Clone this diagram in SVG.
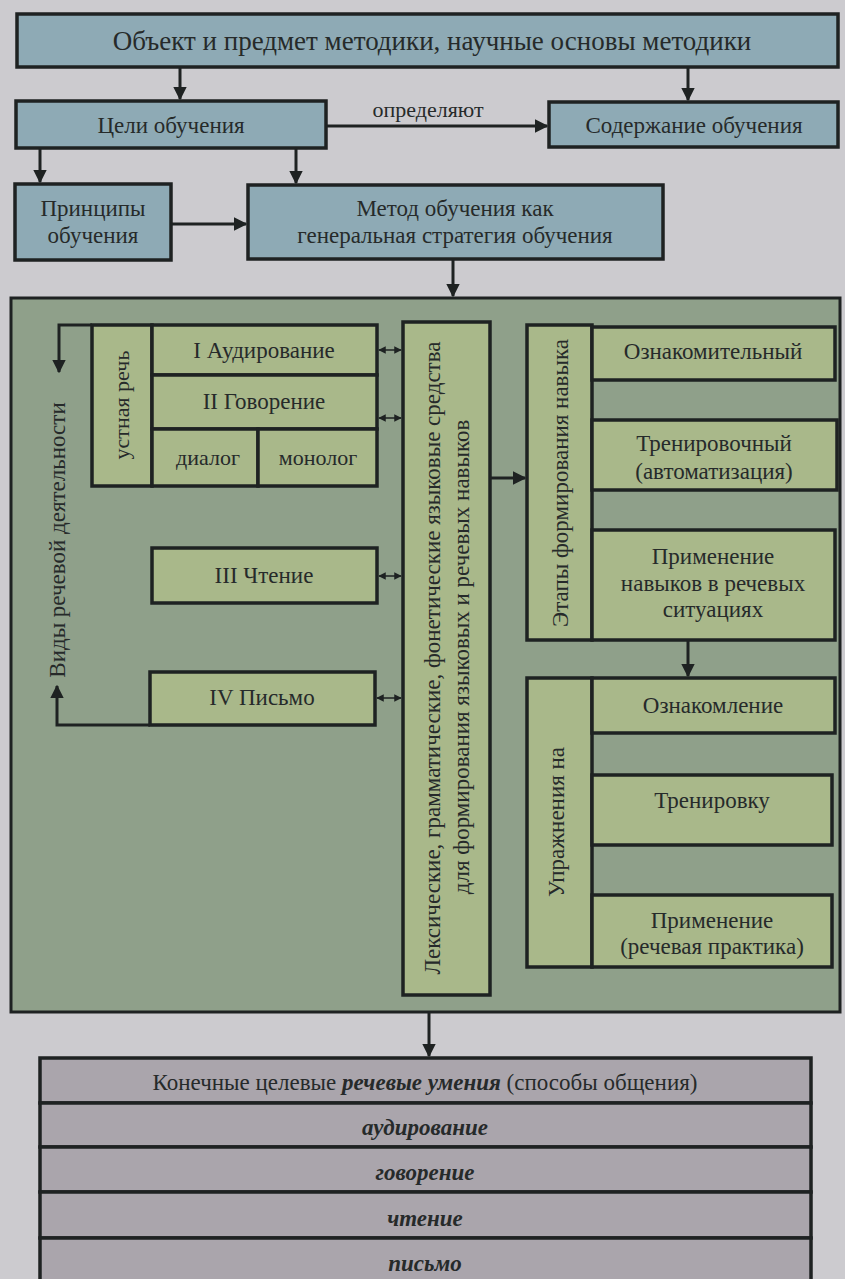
<svg xmlns="http://www.w3.org/2000/svg" width="845" height="1279" viewBox="0 0 845 1279">
<defs>
<style>
.bg{fill:#cccbcf}
.blue{fill:#8eaab5;stroke:#1e2222;stroke-width:3.5}
.big{fill:#8fa08a;stroke:#1e2222;stroke-width:3}
.ol{fill:#a9b88a;stroke:#1e2222;stroke-width:3.5}
.tb{fill:#aaa5ac;stroke:#1e2222;stroke-width:3.5}
text{font-family:"Liberation Serif","Times New Roman",serif;fill:#262a2a;text-anchor:middle;dominant-baseline:central}
.t1{font-size:27px}
.t{font-size:23px}
.s{font-size:22px}
.bi{font-size:23px;font-style:italic;font-weight:bold}
.ln{fill:none;stroke:#1e2222;stroke-width:3}
.ln2{fill:none;stroke:#1e2222;stroke-width:1.5}
</style>
<marker id="ah" viewBox="0 0 10 10" refX="9" refY="5" markerWidth="4.5" markerHeight="4.5" orient="auto-start-reverse" markerUnits="strokeWidth">
<path d="M0,0 L10,5 L0,10 z" fill="#1e2222"/>
</marker>
<marker id="sh" viewBox="0 0 10 10" refX="9" refY="5" markerWidth="5" markerHeight="5" orient="auto-start-reverse" markerUnits="strokeWidth">
<path d="M0,0 L10,5 L0,10 z" fill="#1e2222"/>
</marker>
</defs>
<rect class="bg" x="0" y="0" width="845" height="1279"/>

<g id="n-object"><rect class="blue" x="17" y="14" width="821" height="53"/><text class="t1" x="432" y="41">Объект и предмет методики, научные основы методики</text></g>
<g id="n-goals"><rect class="blue" x="16" y="101" width="310" height="47"/><text class="t" x="171" y="125">Цели обучения</text></g>
<g id="n-content"><rect class="blue" x="549" y="102" width="289" height="45"/><text class="t" x="694" y="125">Содержание обучения</text></g>
<g id="n-principles"><rect class="blue" x="15" y="184" width="156" height="76"/><text class="t" x="93" y="208">Принципы</text><text class="t" x="93" y="235">обучения</text></g>
<g id="n-method"><rect class="blue" x="248" y="185" width="415" height="74"/><text class="t" x="455" y="208">Метод обучения как</text><text class="t" x="455" y="235">генеральная стратегия обучения</text></g>

<g id="n-bigbox"><rect class="big" x="11" y="298" width="829" height="714"/></g>

<g id="n-vidy"><text class="t" transform="translate(57,540) rotate(-90)">Виды речевой деятельности</text></g>
<g id="n-oral"><rect class="ol" x="92" y="325" width="60" height="161"/><text class="s" transform="translate(121,405) rotate(-90)">устная речь</text></g>
<g id="n-listen"><rect class="ol" x="152" y="325" width="225" height="50"/><text class="t" x="264" y="350">I Аудирование</text></g>
<g id="n-speak"><rect class="ol" x="152" y="375" width="225" height="54"/><text class="t" x="264" y="401">II Говорение</text></g>
<g id="n-dialog"><rect class="ol" x="152" y="429" width="106" height="57"/><text class="s" x="208" y="457">диалог</text></g>
<g id="n-monolog"><rect class="ol" x="258" y="429" width="119" height="57"/><text class="s" x="318" y="457">монолог</text></g>
<g id="n-read"><rect class="ol" x="152" y="548" width="225" height="55"/><text class="t" x="264" y="575">III Чтение</text></g>
<g id="n-write"><rect class="ol" x="150" y="672" width="225" height="53"/><text class="t" x="262" y="697">IV Письмо</text></g>

<g id="n-means"><rect class="ol" x="403" y="322" width="87" height="673"/>
<text class="t" transform="translate(432,658) rotate(-90)">Лексические, грамматические, фонетические языковые средства</text>
<text class="t" transform="translate(461,657) rotate(-90)">для формирования языковых и речевых навыков</text></g>

<g id="n-stages"><rect class="ol" x="527" y="325" width="65" height="315"/><text class="t" transform="translate(560,483) rotate(-90)">Этапы формирования навыка</text></g>
<g id="n-intro"><rect class="ol" x="592" y="327" width="243" height="53"/><text class="t" x="713" y="351">Ознакомительный</text></g>
<g id="n-train"><rect class="ol" x="592" y="420" width="245" height="70"/><text class="t" x="714" y="443">Тренировочный</text><text class="t" x="714" y="471">(автоматизация)</text></g>
<g id="n-apply"><rect class="ol" x="592" y="530" width="243" height="110"/><text class="t" x="713" y="556">Применение</text><text class="t" x="713" y="583">навыков в речевых</text><text class="t" x="713" y="609">ситуациях</text></g>

<g id="n-exercises"><rect class="ol" x="527" y="678" width="65" height="289"/><text class="t" transform="translate(556,822) rotate(-90)">Упражнения на</text></g>
<g id="n-ex1"><rect class="ol" x="592" y="678" width="243" height="55"/><text class="t" x="713" y="705">Ознакомление</text></g>
<g id="n-ex2"><rect class="ol" x="592" y="775" width="240" height="70"/><text class="t" x="712" y="800">Тренировку</text></g>
<g id="n-ex3"><rect class="ol" x="592" y="895" width="240" height="72"/><text class="t" x="712" y="920">Применение</text><text class="t" x="712" y="946">(речевая практика)</text></g>

<g id="n-final">
<rect class="tb" x="40" y="1058" width="771" height="45"/><text class="t" x="425" y="1082">Конечные целевые <tspan font-weight="bold" font-style="italic">речевые умения</tspan> (способы общения)</text>
<rect class="tb" x="40" y="1103" width="771" height="44"/><text class="bi" x="425" y="1127">аудирование</text>
<rect class="tb" x="40" y="1147" width="771" height="45"/><text class="bi" x="425" y="1172">говорение</text>
<rect class="tb" x="40" y="1192" width="771" height="46"/><text class="bi" x="425" y="1218">чтение</text>
<rect class="tb" x="40" y="1238" width="771" height="50"/><text class="bi" x="425" y="1263">письмо</text>
</g>

<g id="connectors">
<line class="ln" x1="180" y1="67" x2="180" y2="99" marker-end="url(#ah)"/>
<line class="ln" x1="688" y1="67" x2="688" y2="100" marker-end="url(#ah)"/>
<line class="ln" x1="326" y1="126" x2="547" y2="126" marker-end="url(#ah)"/>
<text class="s" x="428" y="109">определяют</text>
<line class="ln" x1="40" y1="148" x2="40" y2="182" marker-end="url(#ah)"/>
<line class="ln" x1="296" y1="148" x2="296" y2="183" marker-end="url(#ah)"/>
<line class="ln" x1="171" y1="224" x2="246" y2="224" marker-end="url(#ah)"/>
<line class="ln" x1="453" y1="259" x2="453" y2="296" marker-end="url(#ah)"/>
<polyline class="ln" points="92,325 59,325 59,372" marker-end="url(#ah)"/>
<polyline class="ln" points="150,725 57,725 57,686" marker-end="url(#ah)"/>
<line class="ln2" x1="379" y1="350" x2="401" y2="350" marker-start="url(#sh)" marker-end="url(#sh)"/>
<line class="ln2" x1="379" y1="418" x2="401" y2="418" marker-start="url(#sh)" marker-end="url(#sh)"/>
<line class="ln2" x1="379" y1="576" x2="401" y2="576" marker-start="url(#sh)" marker-end="url(#sh)"/>
<line class="ln2" x1="377" y1="698" x2="401" y2="698" marker-start="url(#sh)" marker-end="url(#sh)"/>
<line class="ln" x1="490" y1="478" x2="525" y2="478" marker-end="url(#ah)"/>
<line class="ln" x1="688" y1="640" x2="688" y2="676" marker-end="url(#ah)"/>
<line class="ln" x1="429" y1="1012" x2="429" y2="1056" marker-end="url(#ah)"/>
</g>
</svg>
